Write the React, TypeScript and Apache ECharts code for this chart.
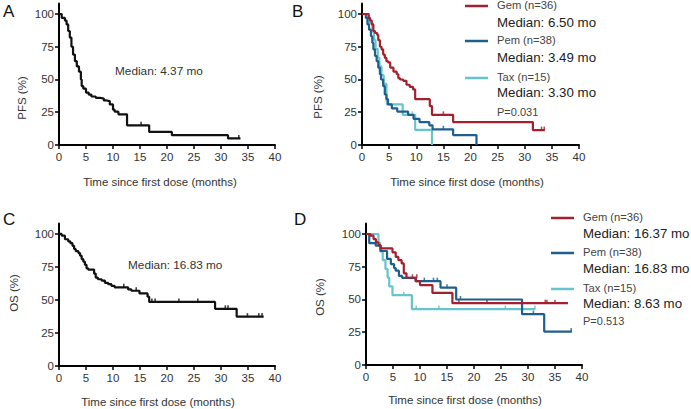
import React, { useEffect, useRef } from "react";
import * as echarts from "echarts";

// ---------- data ----------
const xTicks = [0, 5, 10, 15, 20, 25, 30, 35, 40];
const yTicks = [0, 25, 50, 75, 100];

// Panel A: PFS, all patients
const pfsAllT = [0, 0.5, 1.1, 1.4, 1.7, 2.0, 2.3, 2.6, 2.95, 3.3, 3.7, 4.05, 4.2, 4.5, 5.0, 5.5, 6.0, 6.8, 7.6, 8.3, 8.8, 9.4, 10.0, 10.3, 11.0, 12.6, 16.7, 20.9, 31.3, 33.6];
const pfsAllS = [100, 97, 95, 92, 87, 82, 75, 69, 64, 60, 56, 50, 45, 43, 40, 38.5, 37, 36, 35.5, 34, 33.5, 31, 27, 25.4, 23.4, 15, 10, 7.5, 5, 5];
const pfsAllCensT = [15.2, 33.3];
const pfsAllCensS = [15, 5];

// Panel B: PFS by regimen
const pfsGemT = [0, 1.2, 1.5, 1.8, 2.1, 2.4, 2.8, 3.0, 3.3, 3.6, 3.9, 4.2, 4.5, 4.8, 5.2, 5.8, 6.4, 6.7, 7.0, 7.6, 8.2, 8.8, 9.4, 9.8, 12.5, 12.9, 16.8, 31.5, 33.7];
const pfsGemS = [100, 97, 95, 92, 87, 85.5, 84, 80, 75, 73, 69, 66.5, 64, 63, 59, 56, 54, 51, 50, 49, 46, 44.4, 42.4, 35, 29.7, 23, 17.5, 11.4, 11.4];
const pfsGemCensT = [15.0, 33.1, 33.6];
const pfsGemCensS = [23, 11.4, 11.4];

const pfsPemT = [0, 0.7, 1.0, 1.3, 1.65, 1.9, 2.1, 2.4, 2.7, 3.0, 3.3, 3.5, 3.9, 4.2, 4.5, 4.8, 5.5, 6.5, 8.5, 9.5, 10.6, 12.4, 13.0, 16.8, 21.1];
const pfsPemS = [100, 97, 92, 88, 83, 78, 73, 68, 64, 59, 54, 50, 45, 38.6, 35, 31, 28, 25.5, 23, 20, 17.5, 15, 12, 7.6, 0];
const pfsPemCensT = [15.0];
const pfsPemCensS = [12];

const pfsTaxT = [0, 1.3, 1.9, 2.2, 2.5, 2.9, 3.2, 3.6, 4.0, 4.5, 4.6, 7.5, 9.8, 12.9];
const pfsTaxS = [100, 93.3, 86.7, 80, 73.3, 66.7, 60, 53.3, 46.7, 38, 31, 23, 11.5, 0];
const pfsTaxCensT = [9.3];
const pfsTaxCensS = [23];

// Panel C: OS, all patients
const osAllT = [0, 0.5, 1.1, 1.7, 2.1, 2.5, 2.8, 3.1, 3.6, 3.9, 4.2, 4.5, 4.8, 5.1, 5.4, 6.5, 6.8, 7.2, 7.9, 8.5, 9.1, 9.7, 10.3, 12.8, 13.4, 14.9, 16.4, 16.7, 28.9, 32.9, 37.9];
const osAllS = [100, 98.7, 96, 94.4, 93, 91, 88.6, 87, 85.5, 83.5, 81, 79, 76.6, 74, 73, 70, 67, 65.7, 64.7, 63, 62, 60.7, 59.6, 58, 57, 55, 52.5, 48.5, 43.3, 37.4, 37.4];
const osAllCensT = [12.0, 14.3, 17.2, 17.8, 22.2, 25.7, 30.8, 31.3, 34.9, 37.0, 37.6];
const osAllCensS = [59.6, 57, 48.5, 48.5, 48.5, 48.5, 43.3, 43.3, 37.4, 37.4, 37.4];

// Panel D: OS by regimen
const osGemT = [0, 0.8, 1.4, 1.85, 2.3, 2.7, 4.9, 5.5, 6.0, 6.6, 7.0, 7.5, 9.2, 10.0, 12.3, 16.0, 37.4];
const osGemS = [100, 98.7, 96, 93.6, 91.5, 89, 86, 82.5, 80, 77.5, 70, 66.6, 64, 61, 55, 47.2, 47.2];
const osGemCensT = [8.6, 9.4, 17.2, 22.4, 33.2, 33.5, 35.0];
const osGemCensS = [66.6, 66.6, 47.2, 47.2, 47.2, 47.2, 47.2];

const osPemT = [0, 0.6, 1.8, 2.7, 3.9, 4.6, 5.2, 5.5, 6.1, 6.7, 9.2, 13.8, 16.7, 28.9, 33.0, 38.1];
const osPemS = [100, 93, 91, 87, 81, 77, 74, 72, 68, 66.5, 64, 59, 50, 38.8, 25.5, 25.5];
const osPemCensT = [10.8, 12.5, 13.2, 15.0, 17.5, 31.0, 38.0];
const osPemCensS = [64, 64, 64, 59, 50, 38.8, 25.5];

const osTaxT = [0, 2.3, 2.6, 3.1, 3.6, 4.0, 4.3, 4.9, 8.5, 31.3];
const osTaxS = [100, 93.3, 86.7, 80, 73.3, 66.7, 60, 53.3, 42.7, 42.7];
const osTaxCensT = [7.0, 9.3, 13.5, 25.8, 31.3];
const osTaxCensS = [53.3, 42.7, 42.7, 42.7, 42.7];

const groups = ["Gem (n=36)", "Pem (n=38)", "Tax (n=15)"];
const pfsMedians = ["Median: 6.50 mo", "Median: 3.49 mo", "Median: 3.30 mo"];
const osMedians = ["Median: 16.37 mo", "Median: 16.83 mo", "Median: 8.63 mo"];
const pfsP = "P=0.031";
const osP = "P=0.513";
const pfsAllMedian = "Median: 4.37 mo";
const osAllMedian = "Median: 16.83 mo";

// ---------- styling ----------
const FONT = "'Liberation Sans', Arial, sans-serif";
const BLACK = "#111111";
const RED = "#a3202e";
const BLUE = "#1f5f8e";
const TEAL = "#66c5cc";
const TEXT = "#333333";
const colors = [RED, BLUE, TEAL];

const pairs = (t: number[], s: number[]) => t.map((x, i) => [x, s[i]]);

const grids = [
  { left: 59, top: 3.5, width: 216, height: 141.5 },
  { left: 362, top: 3.5, width: 217, height: 141.5 },
  { left: 59, top: 223.4, width: 216, height: 142.6 },
  { left: 366, top: 223.5, width: 216, height: 141.5 },
];

function xAxis(i: number) {
  return {
    type: "value",
    gridIndex: i,
    min: 0,
    max: 40,
    interval: 5,
    axisLine: { show: true, onZero: false, lineStyle: { color: "#000", width: 2 } },
    axisTick: { show: true, length: 4, lineStyle: { color: "#000", width: 1.5 } },
    axisLabel: { color: TEXT, fontSize: 11.5, fontFamily: FONT, fontWeight: "normal", margin: 6 },
    splitLine: { show: false },
  };
}
function yAxis(i: number) {
  return {
    type: "value",
    gridIndex: i,
    min: 0,
    max: 108,
    interval: 25,
    axisLine: { show: true, onZero: false, lineStyle: { color: "#000", width: 2 } },
    axisTick: { show: true, length: 4, lineStyle: { color: "#000", width: 1.5 }, customValues: yTicks },
    axisLabel: { color: TEXT, fontSize: 11.5, fontFamily: FONT, fontWeight: "normal", margin: 5, customValues: yTicks },
    splitLine: { show: false },
  };
}

function curve(i: number, t: number[], s: number[], color: string) {
  return {
    type: "line",
    xAxisIndex: i,
    yAxisIndex: i,
    step: "end",
    symbol: "none",
    data: pairs(t, s),
    lineStyle: { color, width: 2.2 },
    itemStyle: { color },
    silent: true,
  };
}
function cens(i: number, t: number[], s: number[], color: string) {
  return {
    type: "scatter",
    xAxisIndex: i,
    yAxisIndex: i,
    symbol: "rect",
    symbolSize: [1.6, 4],
    symbolOffset: [0, -1.5],
    data: pairs(t, s),
    itemStyle: { color },
    silent: true,
  };
}

function text(x: number, y: number, str: string, size: number, extra: any = {}) {
  return {
    type: "text",
    x,
    y,
    style: {
      text: str,
      fontSize: size,
      fontFamily: FONT,
      fontWeight: "normal",
      fill: extra.fill || TEXT,
      align: extra.align || "left",
      verticalAlign: extra.verticalAlign || "middle",
    },
    rotation: extra.rotation || 0,
  };
}

function legend(x0: number, lineYs: number[], medYs: number[], pY: number, meds: string[], p: string) {
  const els: any[] = [];
  groups.forEach((g, k) => {
    els.push({
      type: "line",
      shape: { x1: x0, y1: lineYs[k], x2: x0 + 23, y2: lineYs[k] },
      style: { stroke: colors[k], lineWidth: 2.5 },
    });
    els.push(text(x0 + 32, lineYs[k] - 1, g, 11.2, { fill: "#444" }));
    els.push(text(x0 + 32, medYs[k], meds[k], 13.3, { fill: "#222" }));
  });
  els.push(text(x0 + 32, pY, p, 11, { fill: "#444" }));
  return els;
}

export default function App() {
  const ref = useRef<HTMLDivElement>(null);
  useEffect(() => {
    if (!ref.current) return;
    const chart = echarts.init(ref.current, null, { renderer: "svg" });
    const rot = Math.PI / 2;
    chart.setOption({
      animation: false,
      backgroundColor: "#ffffff",
      grid: grids,
      xAxis: [0, 1, 2, 3].map(xAxis),
      yAxis: [0, 1, 2, 3].map(yAxis),
      series: [
        curve(0, pfsAllT, pfsAllS, BLACK),
        cens(0, pfsAllCensT, pfsAllCensS, BLACK),
        curve(1, pfsTaxT, pfsTaxS, TEAL),
        cens(1, pfsTaxCensT, pfsTaxCensS, TEAL),
        curve(1, pfsPemT, pfsPemS, BLUE),
        cens(1, pfsPemCensT, pfsPemCensS, BLUE),
        curve(1, pfsGemT, pfsGemS, RED),
        cens(1, pfsGemCensT, pfsGemCensS, RED),
        curve(2, osAllT, osAllS, BLACK),
        cens(2, osAllCensT, osAllCensS, BLACK),
        curve(3, osTaxT, osTaxS, TEAL),
        cens(3, osTaxCensT, osTaxCensS, TEAL),
        curve(3, osPemT, osPemS, BLUE),
        cens(3, osPemCensT, osPemCensS, BLUE),
        curve(3, osGemT, osGemS, RED),
        cens(3, osGemCensT, osGemCensS, RED),
      ],
      graphic: [
        // panel letters
        text(3, 11, "A", 17, { fill: "#111" }),
        text(292, 11, "B", 17, { fill: "#111" }),
        text(3, 219, "C", 17, { fill: "#111" }),
        text(294, 219, "D", 17, { fill: "#111" }),
        // axis titles
        text(160, 182, "Time since first dose (months)", 11.5, { align: "center" }),
        text(467, 182, "Time since first dose (months)", 11.5, { align: "center" }),
        text(158, 402, "Time since first dose (months)", 11.5, { align: "center" }),
        text(465, 400, "Time since first dose (months)", 11.5, { align: "center" }),
        text(22, 98, "PFS (%)", 11.5, { align: "center", rotation: rot }),
        text(318, 97, "PFS (%)", 11.5, { align: "center", rotation: rot }),
        text(14, 293, "OS (%)", 11.5, { align: "center", rotation: rot }),
        text(320, 297, "OS (%)", 11.5, { align: "center", rotation: rot }),
        // medians
        text(115, 71, pfsAllMedian, 11.8),
        text(128, 265, osAllMedian, 11.8),
        ...legend(465, [6, 41, 78], [22.5, 57.5, 92], 112, pfsMedians, pfsP),
        ...legend(551, [218, 253, 289], [233.5, 268.5, 303.5], 321, osMedians, osP),
      ],
    });
    return () => chart.dispose();
  }, []);
  return (
    <div
      ref={ref}
      style={{ position: "absolute", left: 0, top: 0, width: 691, height: 409, background: "#fff" }}
    />
  );
}
